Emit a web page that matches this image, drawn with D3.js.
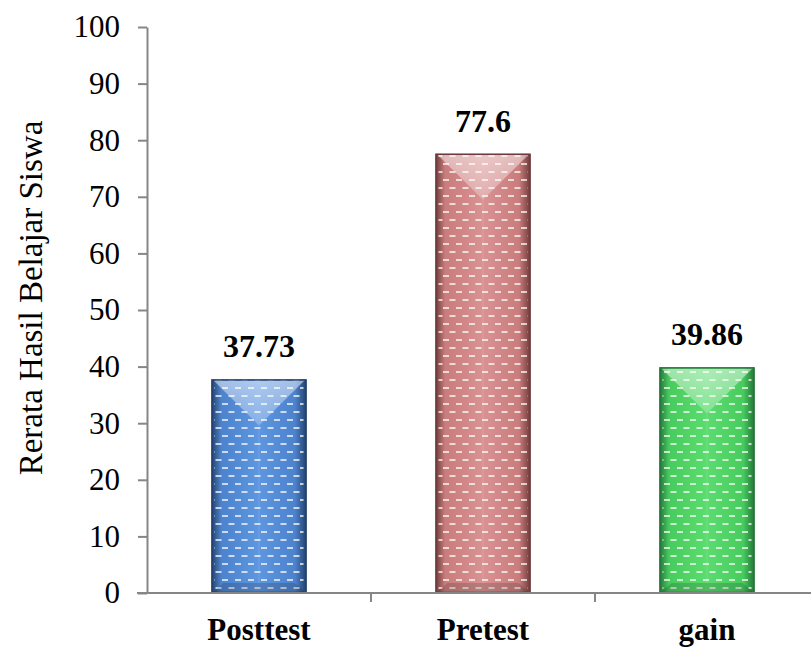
<!DOCTYPE html>
<html>
<head>
<meta charset="utf-8">
<script src="https://cdn.jsdelivr.net/npm/d3@7.9.0/dist/d3.min.js"></script>
<style>
  body { margin: 0; background: #fff; }
  svg { display: block; font-family: "Liberation Serif", "Times New Roman", serif; }
</style>
</head>
<body>
<svg width="811" height="647"></svg>
<script>
// chart data
const categories = ["Posttest", "Pretest", "gain"];
const values = [37.73, 77.6, 39.86];
const valueLabels = ["37.73", "77.6", "39.86"];
const yTicks = [0, 10, 20, 30, 40, 50, 60, 70, 80, 90, 100];
const yTitle = "Rerata Hasil Belajar Siswa";

// bar colours: [edge, body, centre]
const palette = [
  ["#23416c", "#4d82cc", "#5e96e0"],
  ["#6e3b3b", "#c97c7c", "#d99292"],
  ["#25753a", "#48cb5d", "#5cdc70"]
];

const svg = d3.select("svg");
const defs = svg.append("defs");

const y = d3.scaleLinear().domain([0, 100]).range([593, 27]);
const x = d3.scaleBand().domain(categories).range([147, 819])
  .paddingInner(0.576).paddingOuter(0.288);

// gradients for each bar
palette.forEach((c, i) => {
  let g = defs.append("linearGradient").attr("id", "grad" + i)
    .attr("x1", 0).attr("x2", 1).attr("y1", 0).attr("y2", 0);
  [[0, c[0]], [0.1, c[1]], [0.5, c[2]], [0.88, c[1]], [1, c[0]]].forEach(s => {
    g.append("stop").attr("offset", s[0]).attr("stop-color", s[1]);
  });
});

// highlight gradient for top triangle
let hl = defs.append("linearGradient").attr("id", "hl")
  .attr("x1", 0).attr("x2", 0).attr("y1", 0).attr("y2", 1);
hl.append("stop").attr("offset", 0).attr("stop-color", "#fff").attr("stop-opacity", 0.5);
hl.append("stop").attr("offset", 1).attr("stop-color", "#fff").attr("stop-opacity", 0.25);

// dashed texture
let pat = defs.append("pattern").attr("id", "dash")
  .attr("patternUnits", "userSpaceOnUse").attr("width", 13).attr("height", 16);
[[1, 3], [7.5, 11], [-5.5, 11]].forEach(p => {
  pat.append("rect").attr("x", p[0]).attr("y", p[1]).attr("width", 6).attr("height", 2)
    .attr("fill", "#fff").attr("opacity", 0.7);
});

// bars
const bars = svg.append("g").selectAll("g").data(categories).join("g");
bars.each(function (d, i) {
  let g = d3.select(this);
  let x0 = x(d), w = x.bandwidth(), x1 = x0 + w;
  let top = y(values[i]), bot = y(0);
  g.append("rect").attr("x", x0).attr("y", top).attr("width", w).attr("height", bot - top)
    .attr("fill", `url(#grad${i})`);
  g.append("rect").attr("x", x0 + 3).attr("y", top).attr("width", w - 6).attr("height", bot - top)
    .attr("fill", "url(#dash)");
  // top triangle highlight
  g.append("polygon")
    .attr("points", `${x0 + 2},${top + 1} ${x1 - 2},${top + 1} ${x0 + w / 2},${top + 46}`)
    .attr("fill", "url(#hl)");
  // faint centre line
  g.append("line").attr("x1", x0 + w / 2).attr("x2", x0 + w / 2)
    .attr("y1", top + 46).attr("y2", bot - 10)
    .attr("stroke", "#fff").attr("stroke-opacity", 0.12).attr("stroke-width", 1);
  // bottom bevel
  g.append("polygon")
    .attr("points", `${x0},${bot} ${x1},${bot} ${x1 - 12},${bot - 10} ${x0 + 12},${bot - 10}`)
    .attr("fill", "#000").attr("opacity", 0.15);
  g.append("rect").attr("x", x0 + 0.5).attr("y", top + 0.5).attr("width", w - 1).attr("height", bot - top - 1)
    .attr("fill", "none").attr("stroke", palette[i][0]).attr("stroke-width", 1.5);
  // value label
  g.append("text").attr("x", x0 + w / 2).attr("y", top - 22)
    .attr("text-anchor", "middle").attr("font-weight", "bold").attr("font-size", 32)
    .text(valueLabels[i]);
});

// y axis
const yAxis = svg.append("g").attr("transform", "translate(147,0)")
  .call(d3.axisLeft(y).tickValues(yTicks).tickSize(9).tickSizeOuter(0).tickPadding(18));
yAxis.selectAll("path, line").attr("stroke", "#868686").attr("stroke-width", 2);
yAxis.selectAll("text").attr("font-size", 31).attr("fill", "#000")
  .attr("font-family", "Liberation Serif, Times New Roman, serif");

// x axis: line plus ticks between categories
const xAxis = svg.append("g");
xAxis.append("line").attr("x1", 137).attr("x2", 811).attr("y1", y(0)).attr("y2", y(0))
  .attr("stroke", "#868686").attr("stroke-width", 2);
const bounds = d3.range(1, categories.length + 1).map(i => x.range()[0] + i * x.step());
xAxis.selectAll(".tk").data(bounds).join("line").attr("class", "tk")
  .attr("x1", d => d).attr("x2", d => d).attr("y1", y(0)).attr("y2", y(0) + 9)
  .attr("stroke", "#868686").attr("stroke-width", 2);
xAxis.selectAll(".cat").data(categories).join("text").attr("class", "cat")
  .attr("x", d => x(d) + x.bandwidth() / 2).attr("y", 640)
  .attr("text-anchor", "middle").attr("font-weight", "bold").attr("font-size", 31)
  .text(d => d);

// y title
svg.append("text").attr("transform", "translate(42,298) rotate(-90)")
  .attr("text-anchor", "middle").attr("font-size", 33).text(yTitle);
</script>
</body>
</html>
